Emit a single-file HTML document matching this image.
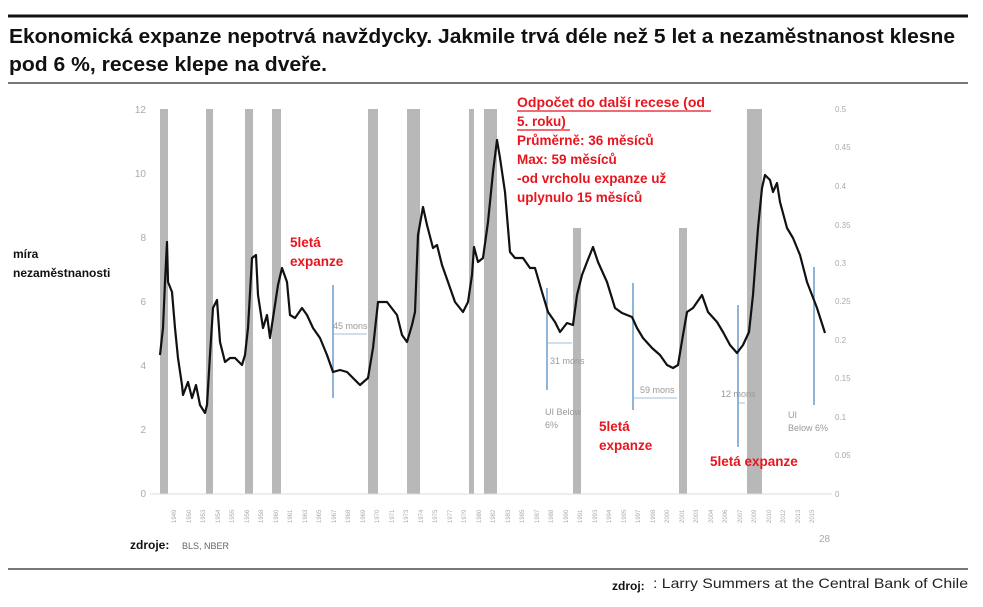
<!DOCTYPE html>
<html><head><meta charset="utf-8"><style>body{margin:0;background:#fff}svg{display:block}</style></head>
<body>
<svg width="983" height="607" viewBox="0 0 983 607" xmlns="http://www.w3.org/2000/svg" font-family="Liberation Sans, sans-serif">
<rect width="983" height="607" fill="#fff"/>
<line x1="8" y1="16" x2="968" y2="16" stroke="#111" stroke-width="3"/>
<text x="9" y="43" font-size="20" font-weight="bold" fill="#111" textLength="946" lengthAdjust="spacingAndGlyphs">Ekonomická expanze nepotrvá navždycky. Jakmile trvá déle než 5 let a nezaměstnanost klesne</text>
<text x="9" y="71" font-size="20" font-weight="bold" fill="#111" textLength="318" lengthAdjust="spacingAndGlyphs">pod 6 %, recese klepe na dveře.</text>
<line x1="8" y1="83" x2="968" y2="83" stroke="#777" stroke-width="2"/>
<g fill="#b8b8b8">
<rect x="160" y="109" width="8" height="385"/>
<rect x="206" y="109" width="7" height="385"/>
<rect x="245" y="109" width="8" height="385"/>
<rect x="272" y="109" width="9" height="385"/>
<rect x="368" y="109" width="10" height="385"/>
<rect x="407" y="109" width="13" height="385"/>
<rect x="469" y="109" width="5" height="385"/>
<rect x="484" y="109" width="13" height="385"/>
<rect x="573" y="228" width="8" height="266"/>
<rect x="679" y="228" width="8" height="266"/>
<rect x="747" y="109" width="15" height="385"/>
</g>
<line x1="150" y1="494" x2="832" y2="494" stroke="#ddd" stroke-width="1"/>
<g font-size="10" fill="#aaa" text-anchor="end">
<text x="146" y="113">12</text><text x="146" y="177">10</text><text x="146" y="241">8</text><text x="146" y="305">6</text><text x="146" y="369">4</text><text x="146" y="433">2</text><text x="146" y="497">0</text>
</g>
<g font-size="8" fill="#aaa">
<text x="835" y="112">0.5</text><text x="835" y="150">0.45</text><text x="835" y="189">0.4</text><text x="835" y="228">0.35</text><text x="835" y="266">0.3</text><text x="835" y="304">0.25</text><text x="835" y="343">0.2</text><text x="835" y="381">0.15</text><text x="835" y="420">0.1</text><text x="835" y="458">0.05</text><text x="835" y="497">0</text>
</g>
<g stroke="#6a9cc8" stroke-width="1.5">
<line x1="333" y1="285" x2="333" y2="398"/>
<line x1="547" y1="288" x2="547" y2="390"/>
<line x1="633" y1="283" x2="633" y2="410"/>
<line x1="738" y1="305" x2="738" y2="447"/>
<line x1="814" y1="267" x2="814" y2="405"/>
</g>
<g stroke="#9cc0de" stroke-width="1">
<line x1="334" y1="334" x2="367" y2="334"/>
<line x1="548" y1="343" x2="572" y2="343"/>
<line x1="634" y1="398" x2="677" y2="398"/>
<line x1="739" y1="403" x2="745" y2="403"/>
</g>
<g font-size="9" fill="#999">
<text x="333" y="329">45 mons</text>
<text x="550" y="364">31 mons</text>
<text x="640" y="393">59 mons</text>
<text x="721" y="397">12 mons</text>
<text x="545" y="415">UI Below</text><text x="545" y="428">6%</text>
<text x="788" y="418">UI</text><text x="788" y="431">Below 6%</text>
</g>
<polyline fill="none" stroke="#111" stroke-width="2.2" stroke-linejoin="round" points="160,355 163,328 165,282 167,242 168,282 172,292 175,328 178,358 182,385 183,395 188,382 192,398 196,385 200,405 205,413 207,405 210,355 213,308 217,300 220,342 225,362 230,358 235,358 242,365 245,355 248,328 252,258 256,255 258,295 263,328 267,315 270,338 273,318 278,285 282,268 287,282 290,315 295,318 302,308 307,315 313,328 320,338 327,355 333,372 340,370 347,372 353,378 360,385 368,378 373,348 378,302 387,302 397,315 402,335 407,342 412,325 415,312 418,235 423,207 427,225 433,248 437,245 442,265 448,282 455,302 463,312 468,302 472,275 474,247 478,262 483,258 488,222 493,172 497,140 500,158 505,192 510,252 515,258 523,258 530,268 535,268 542,292 548,312 555,322 560,332 567,323 573,325 577,295 582,275 587,262 593,247 598,262 607,282 615,308 622,313 632,317 637,328 643,338 652,348 660,355 667,365 673,368 678,365 683,335 687,312 693,308 702,295 708,312 717,322 723,332 730,345 737,353 743,345 749,332 753,295 758,228 762,188 765,175 770,180 773,192 777,183 780,202 787,228 793,238 800,255 807,282 812,295 817,308 825,333"/>
<g font-size="13.5" font-weight="bold" fill="#e8141e">
<text x="517" y="107" textLength="188" lengthAdjust="spacingAndGlyphs">Odpočet do další recese (od</text>
<line x1="517" y1="111" x2="711" y2="111" stroke="#e8141e" stroke-width="1.2"/>
<text x="517" y="126">5. roku)</text>
<line x1="517" y1="130" x2="570" y2="130" stroke="#e8141e" stroke-width="1.2"/>
<text x="517" y="145">Průměrně: 36 měsíců</text>
<text x="517" y="164">Max: 59 měsíců</text>
<text x="517" y="183">-od vrcholu expanze už</text>
<text x="517" y="202">uplynulo 15 měsíců</text>
<text x="290" y="247">5letá</text><text x="290" y="266">expanze</text>
<text x="599" y="431">5letá</text><text x="599" y="450">expanze</text>
<text x="710" y="466">5letá expanze</text>
</g>
<g font-size="12" font-weight="bold" fill="#111">
<text x="13" y="258">míra</text>
<text x="13" y="277">nezaměstnanosti</text>
<text x="130" y="549">zdroje:</text>
<text x="612" y="590">zdroj:</text>
</g>
<text x="182" y="549" font-size="9" fill="#666">BLS, NBER</text>
<text x="819" y="542" font-size="10" fill="#aaa">28</text>
<line x1="8" y1="569" x2="968" y2="569" stroke="#777" stroke-width="2"/>
<text x="653" y="588" font-size="14" fill="#222" textLength="315" lengthAdjust="spacingAndGlyphs">: Larry Summers at the Central Bank of Chile</text>
<g font-size="6" fill="#aaa">
<text transform="translate(176,523) rotate(-90)">1949</text><text transform="translate(191,523) rotate(-90)">1950</text><text transform="translate(205,523) rotate(-90)">1953</text><text transform="translate(220,523) rotate(-90)">1954</text><text transform="translate(234,523) rotate(-90)">1955</text><text transform="translate(249,523) rotate(-90)">1956</text><text transform="translate(263,523) rotate(-90)">1958</text><text transform="translate(278,523) rotate(-90)">1960</text><text transform="translate(292,523) rotate(-90)">1961</text><text transform="translate(307,523) rotate(-90)">1963</text><text transform="translate(321,523) rotate(-90)">1965</text><text transform="translate(336,523) rotate(-90)">1967</text><text transform="translate(350,523) rotate(-90)">1968</text><text transform="translate(365,523) rotate(-90)">1969</text><text transform="translate(379,523) rotate(-90)">1970</text><text transform="translate(394,523) rotate(-90)">1971</text><text transform="translate(408,523) rotate(-90)">1973</text><text transform="translate(423,523) rotate(-90)">1974</text><text transform="translate(437,523) rotate(-90)">1975</text><text transform="translate(452,523) rotate(-90)">1977</text><text transform="translate(466,523) rotate(-90)">1979</text><text transform="translate(481,523) rotate(-90)">1980</text><text transform="translate(495,523) rotate(-90)">1982</text><text transform="translate(510,523) rotate(-90)">1983</text><text transform="translate(524,523) rotate(-90)">1985</text><text transform="translate(539,523) rotate(-90)">1987</text><text transform="translate(553,523) rotate(-90)">1988</text><text transform="translate(568,523) rotate(-90)">1990</text><text transform="translate(582,523) rotate(-90)">1991</text><text transform="translate(597,523) rotate(-90)">1993</text><text transform="translate(611,523) rotate(-90)">1994</text><text transform="translate(626,523) rotate(-90)">1995</text><text transform="translate(640,523) rotate(-90)">1997</text><text transform="translate(655,523) rotate(-90)">1998</text><text transform="translate(669,523) rotate(-90)">2000</text><text transform="translate(684,523) rotate(-90)">2001</text><text transform="translate(698,523) rotate(-90)">2003</text><text transform="translate(713,523) rotate(-90)">2004</text><text transform="translate(727,523) rotate(-90)">2006</text><text transform="translate(742,523) rotate(-90)">2007</text><text transform="translate(756,523) rotate(-90)">2009</text><text transform="translate(771,523) rotate(-90)">2010</text><text transform="translate(785,523) rotate(-90)">2012</text><text transform="translate(800,523) rotate(-90)">2013</text><text transform="translate(814,523) rotate(-90)">2015</text>
</g>
</svg>
</body></html>
